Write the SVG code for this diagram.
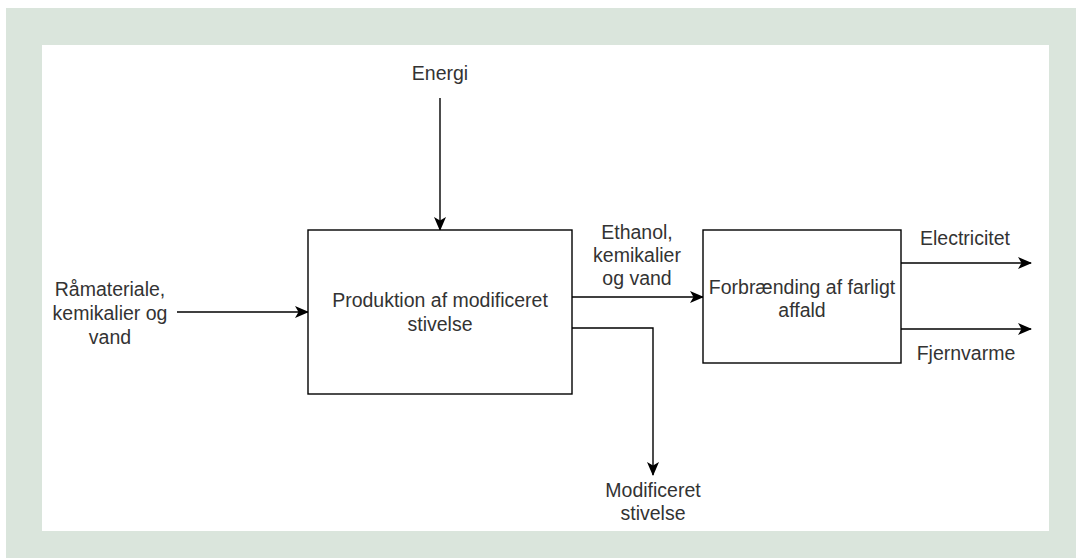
<svg xmlns="http://www.w3.org/2000/svg" width="1076" height="558" viewBox="0 0 1076 558">
  <defs>
    <marker id="arr" viewBox="0 0 14 14" refX="13" refY="7" markerWidth="14" markerHeight="14" markerUnits="userSpaceOnUse" orient="auto">
      <path d="M0,1 L14,7 L0,13 L3.5,7 Z" fill="#000"/>
    </marker>
    <style>
      .box { fill: #fff; stroke: #000; stroke-width: 1.4; }
      .edge { fill: none; stroke: #000; stroke-width: 1.4; marker-end: url(#arr); }
      text { font-family: "Liberation Sans", Arial, Helvetica, sans-serif; font-size: 19.5px; fill: #333; text-anchor: middle; }
    </style>
  </defs>
  <rect x="6" y="8" width="1070" height="550" fill="#dae5dc"/>
  <rect x="42" y="45" width="1007" height="486" fill="#fff"/>

  <g id="connectors">
    <path class="edge" d="M440,98 L440,230"/>
    <path class="edge" d="M177,312 L308,312"/>
    <path class="edge" d="M572,297 L703,297"/>
    <path class="edge" d="M572,328 L653,328 L653,475"/>
    <path class="edge" d="M901,263 L1031,263"/>
    <path class="edge" d="M901,329 L1031,329"/>
  </g>

  <g id="node-produktion">
    <rect class="box" x="308" y="230" width="264" height="164"/>
    <text x="440" y="307">Produktion af modificeret</text>
    <text x="440" y="331">stivelse</text>
  </g>

  <g id="node-forbraending">
    <rect class="box" x="703" y="230" width="198" height="133"/>
    <text x="802" y="294">Forbrænding af farligt</text>
    <text x="802" y="317">affald</text>
  </g>

  <g id="label-energi">
    <text x="440" y="80">Energi</text>
  </g>

  <g id="label-raamateriale">
    <text x="110" y="296">Råmateriale,</text>
    <text x="110" y="320">kemikalier og</text>
    <text x="110" y="344">vand</text>
  </g>

  <g id="label-ethanol">
    <text x="637" y="239">Ethanol,</text>
    <text x="637" y="262">kemikalier</text>
    <text x="637" y="285">og vand</text>
  </g>

  <g id="label-modificeret">
    <text x="653" y="497">Modificeret</text>
    <text x="653" y="520">stivelse</text>
  </g>

  <g id="label-electricitet">
    <text x="965" y="245">Electricitet</text>
  </g>

  <g id="label-fjernvarme">
    <text x="966" y="360">Fjernvarme</text>
  </g>
</svg>
